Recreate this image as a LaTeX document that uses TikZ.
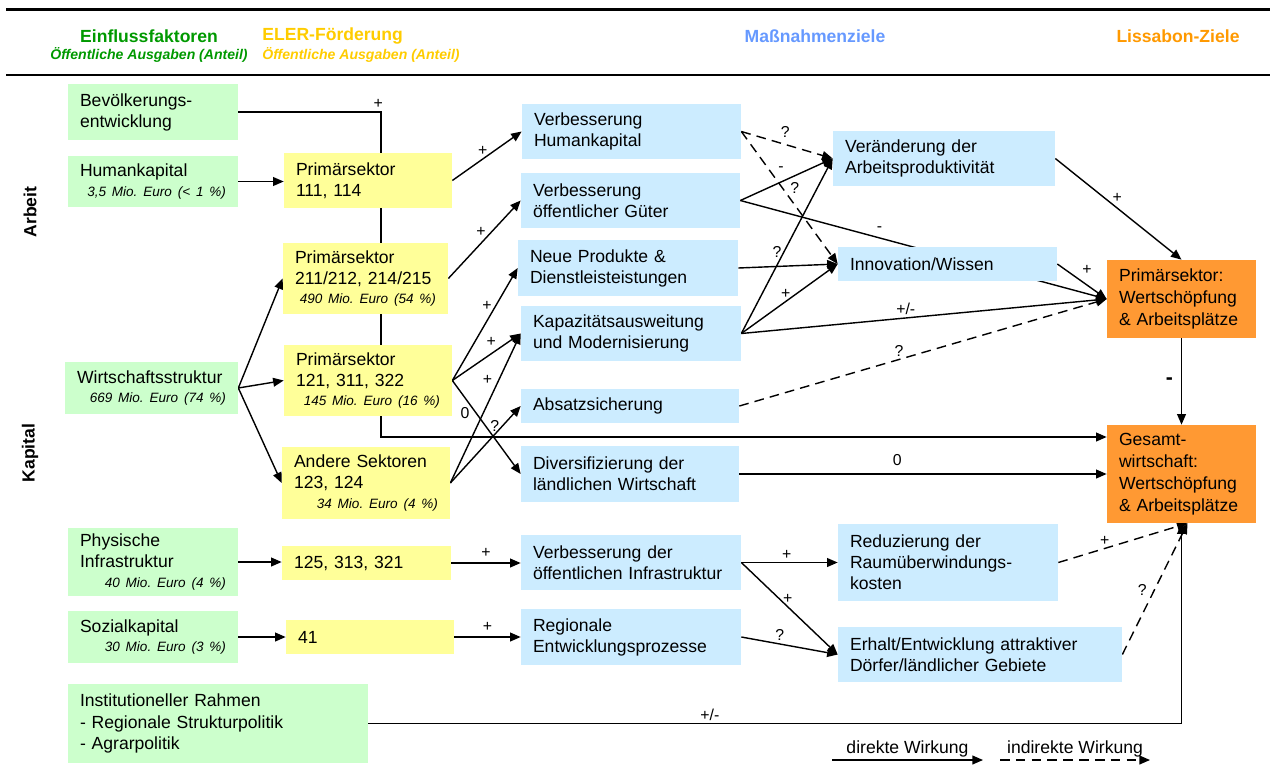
\documentclass[tikz,border=0pt]{standalone}
\usepackage{fontspec}
\setmainfont{Liberation Sans}
\usetikzlibrary{arrows.meta, positioning, backgrounds}
\definecolor{egreen}{HTML}{CCFFCC}
\definecolor{eyellow}{HTML}{FFFF99}
\definecolor{eblue}{HTML}{CCECFF}
\definecolor{eorange}{HTML}{FF9933}
\definecolor{hgreen}{HTML}{009900}
\definecolor{hgold}{HTML}{FFCC00}
\definecolor{hblue}{HTML}{6699FF}
\definecolor{horange}{HTML}{FF9900}
\frenchspacing
\newcommand{\amt}[1]{\par{\raggedleft\fontsize{7.7}{11}\selectfont\itshape #1\par}}
\tikzset{
  ebox/.style={inner xsep=0.24cm, inner ysep=0pt, align=left,
               font=\fontsize{10}{12}\selectfont},
  greenbox/.style={ebox, fill=egreen},
  yellowbox/.style={ebox, fill=eyellow},
  bluebox/.style={ebox, fill=eblue},
  orangebox/.style={ebox, fill=eorange, font=\fontsize{10}{12.5}\selectfont},
  farrow/.style={-{Triangle[length=6pt, width=5pt]}, line width=0.8pt},
  fdash/.style={farrow, dash pattern=on 5.5pt off 3.5pt},
  lbl/.style={font=\fontsize{9}{10}\selectfont, inner sep=1.5pt},
  lgtext/.style={font=\fontsize{10}{12}\selectfont, inner sep=1pt},
  hdr/.style={font=\fontsize{10}{12}\selectfont\bfseries, inner sep=0pt},
  hsub/.style={font=\fontsize{8}{10}\selectfont\bfseries\itshape, inner sep=0pt},
}

\begin{document}
\begin{tikzpicture}[x=0.02cm, y=-0.02cm]

  \useasboundingbox (0,0) rectangle (1270,771);

  % header
  \draw[line width=1.7pt] (6,9.7) -- (1270,9.7);
  \draw[line width=1.7pt] (6,75) -- (1270,75);
  \node[hdr, text=hgreen] (hEin) at (149,36) {Einflussfaktoren};
  \node[hsub, text=hgreen] (hEinSub) at (149,55) {Öffentliche Ausgaben (Anteil)};
  \node[hdr, text=hgold, anchor=west] (hEler) at (262,36) {ELER-Förderung};
  \node[hsub, text=hgold, anchor=west] (hElerSub) at (262,55) {Öffentliche Ausgaben (Anteil)};
  \node[hdr, text=hblue] (hMass) at (815,36) {Maßnahmenziele};
  \node[hdr, text=horange] (hLis) at (1178,36) {Lissabon-Ziele};

  \node[hdr, rotate=90] (sArbeit) at (30,212) {Arbeit};
  \node[hdr, rotate=90] (sKapital) at (30,453) {Kapital};

  % Einflussfaktoren
  \node[greenbox, text width=2.92cm, minimum height=1.12cm] (bev) at (153,112) {Bevölkerungs-\\entwicklung};
  \node[greenbox, text width=2.92cm, minimum height=1.02cm] (hum) at (153,181.5) {Humankapital\amt{3,5 Mio. Euro (< 1 \%)}};
  \node[greenbox, text width=2.98cm, minimum height=1.04cm] (wir) at (151.5,388) {Wirtschaftsstruktur\amt{669 Mio. Euro (74 \%)}};
  \node[greenbox, text width=2.92cm, minimum height=1.36cm] (phy) at (153,562) {Physische\\Infrastruktur\amt{40 Mio. Euro (4 \%)}};
  \node[greenbox, text width=2.92cm, minimum height=1.04cm] (soz) at (153,637) {Sozialkapital\amt{30 Mio. Euro (3 \%)}};
  \node[greenbox, text width=5.52cm, minimum height=1.58cm] (inst) at (218,723.5) {Institutioneller Rahmen\\- Regionale Strukturpolitik\\- Agrarpolitik};

  % ELER-Foerderung
  \node[yellowbox, text width=2.88cm, minimum height=1.1cm] (p111) at (368,180.5) {Primärsektor\\111, 114};
  \node[yellowbox, text width=2.82cm, minimum height=1.42cm] (p211) at (365.5,278.5) {Primärsektor\\211/212, 214/215\amt{490 Mio. Euro (54 \%)}};
  \node[yellowbox, text width=2.88cm, minimum height=1.42cm] (p121) at (368,380.5) {Primärsektor\\121, 311, 322\amt{145 Mio. Euro (16 \%)}};
  \node[yellowbox, text width=2.88cm, minimum height=1.44cm] (pand) at (366,483) {Andere Sektoren\\123, 124\amt{34 Mio. Euro (4 \%)}};
  \node[yellowbox, text width=2.9cm, minimum height=0.68cm] (p125) at (366.5,563) {125, 313, 321};
  \node[yellowbox, text width=2.88cm, minimum height=0.68cm] (p41) at (370,637) {41};

  % Massnahmenziele
  \node[bluebox, text width=3.9cm, minimum height=1.1cm] (vhk) at (631.5,131.5) {Verbesserung\\Humankapital};
  \node[bluebox, text width=3.9cm, minimum height=1.1cm] (vog) at (630.5,200.5) {Verbesserung\\öffentlicher Güter};
  \node[bluebox, text width=3.92cm, minimum height=1.12cm] (npd) at (628,268) {Neue Produkte \&\\Dienstleisteistungen};
  \node[bluebox, text width=3.92cm, minimum height=1.1cm] (kap) at (631,333.5) {Kapazitätsausweitung\\und Modernisierung};
  \node[bluebox, text width=3.88cm, minimum height=0.68cm] (abs) at (630,406) {Absatzsicherung};
  \node[bluebox, text width=3.88cm, minimum height=1.12cm] (div) at (630,474) {Diversifizierung der\\ländlichen Wirtschaft};
  \node[bluebox, text width=3.92cm, minimum height=1.1cm] (vdi) at (631,562.5) {Verbesserung der\\öffentlichen Infrastruktur};
  \node[bluebox, text width=3.92cm, minimum height=1.12cm] (reg) at (631,637) {Regionale\\Entwicklungsprozesse};
  \node[bluebox, text width=3.96cm, minimum height=1.1cm] (var) at (944,158.5) {Veränderung der\\Arbeitsproduktivität};
  \node[bluebox, text width=3.9cm, minimum height=0.68cm] (inw) at (947.5,264) {Innovation/Wissen};
  \node[bluebox, text width=3.92cm, minimum height=1.54cm] (red) at (948,562.5) {Reduzierung der\\Raumüberwindungs-\\kosten};
  \node[bluebox, text width=5.2cm, minimum height=1.1cm] (erh) at (980,654.5) {Erhalt/Entwicklung attraktiver\\Dörfer/ländlicher Gebiete};

  % Lissabon-Ziele
  \node[orangebox, text width=2.5cm, minimum height=1.56cm] (pws) at (1181.5,299) {Primärsektor:\\Wertschöpfung\\\& Arbeitsplätze};
  \node[orangebox, text width=2.5cm, minimum height=1.96cm] (gws) at (1181.5,474) {Gesamt-\\wirtschaft:\\Wertschöpfung\\\& Arbeitsplätze};

  \coordinate (bevdrop) at (381,437);
  \coordinate (gwsin) at ([xshift=0.12cm]gws.south);
  \coordinate (lgA) at (832,760);
  \coordinate (lgB) at (983,760);
  \coordinate (lgC) at (1000,760);
  \coordinate (lgD) at (1150,760);

  \begin{scope}[on background layer]
    \draw[farrow] (bev.east) -| node[lbl, pos=0.49, above] {+} (bevdrop) -- (bevdrop -| gws.west);
    \draw[farrow] (hum.east) -- (hum.east -| p111.west);
    \draw[farrow] (wir.east) -- (p211.west);
    \draw[farrow] (wir.east) -- (p121.west);
    \draw[farrow] (wir.east) -- (pand.west);
    \draw[farrow] (phy.east) -- (phy.east -| p125.west);
    \draw[farrow] (soz.east) -- (soz.east -| p41.west);
    \draw[farrow] (inst.east) -| node[lbl, pos=0.21, above] {+/-} (gws.south);

    \draw[farrow] (p111.east) -- node[lbl, pos=0.44, above] {+} (vhk.west);
    \draw[farrow] (p211.east) -- node[lbl, pos=0.45, above=2pt] {+} (vog.west);
    \draw[farrow] (p121.east) -- node[lbl, pos=0.53, above=4pt] {+} (npd.west);
    \draw[farrow] (p121.east) -- node[lbl, pos=0.57, above=2pt] {+} (kap.west);
    \draw[farrow] (p121.east) -- node[lbl, pos=0.35, left=2pt] {0} (div.west);
    \draw[farrow] (pand.east) -- node[lbl, pos=0.69, left=2pt] {+} (kap.west);
    \draw[farrow] (pand.east) -- node[lbl, pos=0.63, above] {?} (abs.west);

    \draw[fdash] (vhk.east) -- node[lbl, pos=0.48, above=2pt] {?} (var.west);
    \draw[fdash] (vhk.east) -- node[lbl, pos=0.43, right=2.5pt] {?} (inw.west);
    \draw[farrow] (vog.east) -- node[lbl, pos=0.44, above=4pt] {-} (var.west);
    \draw[farrow] (vog.east) -- node[lbl, pos=0.38, above=1.5pt] {-} (pws.west);
    \draw[farrow] (npd.east) -- node[lbl, pos=0.39, above=3pt] {?} (inw.west);
    \draw[farrow] (kap.east) -- (var.west);
    \draw[farrow] (kap.east) -- node[lbl, pos=0.46, above] {+} (inw.west);
    \draw[farrow] (kap.east) -- node[lbl, pos=0.45, above] {+/-} (pws.west);
    \draw[farrow] (inw.east) -- node[lbl, pos=0.6, above=4pt] {+} (pws.west);
    \draw[farrow] (var.east) -- node[lbl, pos=0.49, above=1pt] {+} (pws.north);
    \draw[farrow] (pws.south) -- node[font=\fontsize{12}{14}\selectfont\bfseries, inner sep=1.5pt, left=3pt] {-} (gws.north);
    \draw[fdash] (abs.east) -- node[lbl, pos=0.435, above] {?} (pws.west);
    \draw[farrow] (div.east) -- node[lbl, pos=0.43, above=3pt] {0} (gws.west);

    \draw[farrow] (p125.east) -- node[lbl, above=1.5pt] {+} (p125.east -| vdi.west);
    \draw[farrow] (p41.east) -- node[lbl, above=1pt] {+} (p41.east -| reg.west);
    \draw[farrow] (vdi.east) -- node[lbl, pos=0.47, above] {+} (red.west);
    \draw[farrow] (vdi.east) -- node[lbl, pos=0.4, right] {+} (erh.west);
    \draw[farrow] (reg.east) -- node[lbl, pos=0.4, above] {?} (erh.west);
    \draw[fdash] (red.east) -- node[lbl, pos=0.36, above] {+} (gwsin);
    \draw[fdash] (erh.east) -- node[lbl, pos=0.49, left=2.5pt] {?} (gwsin);
  \end{scope}

  % legend
  \draw[farrow] (lgA) -- node[lgtext, above] {direkte Wirkung} (lgB);
  \draw[fdash] (lgC) -- node[lgtext, above] {indirekte Wirkung} (lgD);

\end{tikzpicture}
\end{document}
